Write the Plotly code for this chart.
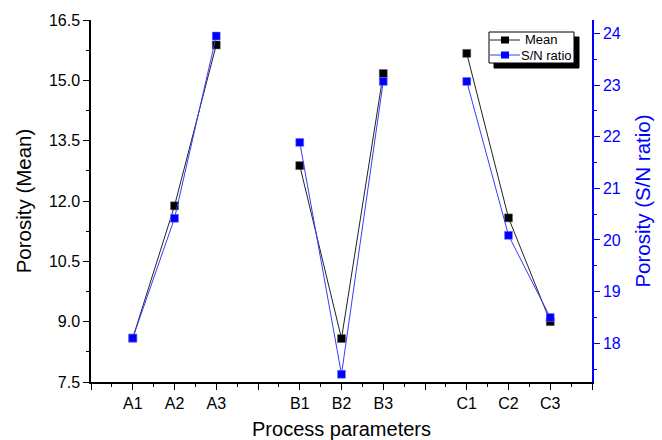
import plotly.graph_objects as go

# ---- data ----
groups = [["A1", "A2", "A3"], ["B1", "B2", "B3"], ["C1", "C2", "C3"]]
mean_vals = [8.59, 11.88, 15.88, 12.88, 8.58, 15.17, 15.67, 11.58, 9.00]
sn_vals = [18.10, 20.42, 23.95, 21.89, 17.40, 23.07, 23.07, 20.09, 18.50]
series_names = ["Mean", "S/N ratio"]

# positions: groups separated by one empty slot
xs, ys_mean, ys_sn, labels = [], [], [], []
k = 0
for gi, g in enumerate(groups):
    for i, lab in enumerate(g):
        xs.append(gi * 4 + i + 1)
        ys_mean.append(mean_vals[k])
        ys_sn.append(sn_vals[k])
        labels.append(lab)
        k += 1
    if gi < len(groups) - 1:
        xs.append(None); ys_mean.append(None); ys_sn.append(None)

tickvals = list(range(0, 13))
pos_to_lab = {x: l for x, l in zip([x for x in xs if x is not None], labels)}
ticktext = [pos_to_lab.get(t, "") for t in tickvals]

FONT = "Liberation Sans, Arial, sans-serif"
BLUE = "#0000ff"
MEAN_LINE = "#222222"
SN_LINE = "#3a3aff"
TICK_SIZE = 16
TITLE_SIZE = 20.5

fig = go.Figure()
fig.add_trace(go.Scatter(
    x=xs, y=ys_mean, name=series_names[0], mode="lines+markers",
    line=dict(color=MEAN_LINE, width=1),
    marker=dict(symbol="square", size=8, color="black", line=dict(color="#666666", width=0.5)),
    connectgaps=False, yaxis="y", xaxis="x", showlegend=False))
fig.add_trace(go.Scatter(
    x=xs, y=ys_sn, name=series_names[1], mode="lines+markers",
    line=dict(color=SN_LINE, width=1),
    marker=dict(symbol="square", size=8, color=BLUE, line=dict(color="#8080ff", width=0.5)),
    connectgaps=False, yaxis="y2", xaxis="x", showlegend=False))

L, R, T, B = 91, 70, 20, 58
W, H = 662, 440
PW, PH = W - L - R, H - T - B

fig.update_layout(
    width=W, height=H,
    margin=dict(l=L, r=R, t=T, b=B, autoexpand=False),
    paper_bgcolor="white", plot_bgcolor="white",
    font=dict(family=FONT, color="black", size=13),
    showlegend=False,
    xaxis=dict(range=[0, 12], tickmode="array", tickvals=tickvals, ticktext=ticktext,
               automargin=False,
               showline=True, linecolor="black", linewidth=1.5, mirror=False,
               ticks="outside", ticklen=6, tickwidth=1.2, tickcolor="black",
               ticklabelstandoff=0,
               minor=dict(ticks="outside", ticklen=3, tickwidth=1, tickcolor="black",
                          tickvals=[i + 0.5 for i in range(12)]),
               showgrid=False, zeroline=False,
               tickfont=dict(size=TICK_SIZE, family=FONT),
               title=dict(text="Process parameters", font=dict(size=20, family=FONT), standoff=13)),
    xaxis2=dict(range=[0, 12], overlaying="x", side="top", anchor="y",
                automargin=False,
                tickmode="array", tickvals=tickvals, showticklabels=False,
                showline=True, linecolor=BLUE, linewidth=1.5,
                ticks="inside", ticklen=5, tickwidth=1.2, tickcolor=BLUE,
                minor=dict(ticks="inside", ticklen=3, tickwidth=1, tickcolor=BLUE,
                           tickvals=[i + 0.5 for i in range(12)]),
                showgrid=False, zeroline=False),
    yaxis=dict(range=[7.5, 16.5], tickmode="array",
               automargin=False,
               tickvals=[7.5, 9.0, 10.5, 12.0, 13.5, 15.0, 16.5],
               ticktext=["7.5", "9.0", "10.5", "12.0", "13.5", "15.0", "16.5"],
               showline=True, linecolor="black", linewidth=1.5,
               ticks="outside", ticklen=6, tickwidth=1.2, tickcolor="black",
               minor=dict(ticks="outside", ticklen=3, tickwidth=1, tickcolor="black",
                          tickvals=[8.25, 9.75, 11.25, 12.75, 14.25, 15.75]),
               showgrid=False, zeroline=False,
               tickfont=dict(size=TICK_SIZE, family=FONT),
               title=dict(text="Porosity (Mean)", font=dict(size=TITLE_SIZE, family=FONT), standoff=12)),
    yaxis2=dict(range=[17.25, 24.26], overlaying="y", side="right", anchor="x",
                automargin=False,
                tickmode="array", tickvals=[18, 19, 20, 21, 22, 23, 24],
                showline=True, linecolor=BLUE, linewidth=1.5,
                ticks="outside", ticklen=6, tickwidth=1.2, tickcolor=BLUE,
                minor=dict(ticks="outside", ticklen=3, tickwidth=1, tickcolor=BLUE,
                           tickvals=[17.5, 18.5, 19.5, 20.5, 21.5, 22.5, 23.5]),
                showgrid=False, zeroline=False,
                tickfont=dict(size=TICK_SIZE, family=FONT, color=BLUE),
                title=dict(text="Porosity (S/N ratio)", font=dict(size=TITLE_SIZE, family=FONT, color=BLUE),
                           standoff=16)),
)

# ---- legend box (drawn in paper coordinates, with drop shadow) ----
def px(xp):
    return (xp - L) / PW

def py(yp):
    return (T + PH - yp) / PH

box = (489, 32, 574, 63)  # left, top, right, bottom in pixels
fig.add_shape(type="rect", xref="paper", yref="paper",
              x0=px(box[0] + 5), x1=px(box[2] + 5), y0=py(box[3] + 5), y1=py(box[1] + 5),
              fillcolor="black", line=dict(color="black", width=1), layer="above")
fig.add_shape(type="rect", xref="paper", yref="paper",
              x0=px(box[0]), x1=px(box[2]), y0=py(box[3]), y1=py(box[1]),
              fillcolor="white", line=dict(color="black", width=1), layer="above")
rows = [(40, MEAN_LINE, "black", 523), (55, SN_LINE, BLUE, 519)]
for (yy, lc, mc, tx), name in zip(rows, series_names):
    fig.add_shape(type="line", xref="paper", yref="paper",
                  x0=px(box[0] + 1), x1=px(520), y0=py(yy), y1=py(yy),
                  line=dict(color=lc, width=1), layer="above")
    fig.add_shape(type="rect", xref="paper", yref="paper",
                  x0=px(501), x1=px(509), y0=py(yy + 3.5), y1=py(yy - 3.5),
                  fillcolor=mc, line=dict(width=0), layer="above")
    fig.add_annotation(xref="paper", yref="paper", x=px(tx), y=py(yy),
                       xanchor="left", yanchor="middle", showarrow=False,
                       text=name, font=dict(size=13, family=FONT, color="black"))

fig.write_html("out.html")
